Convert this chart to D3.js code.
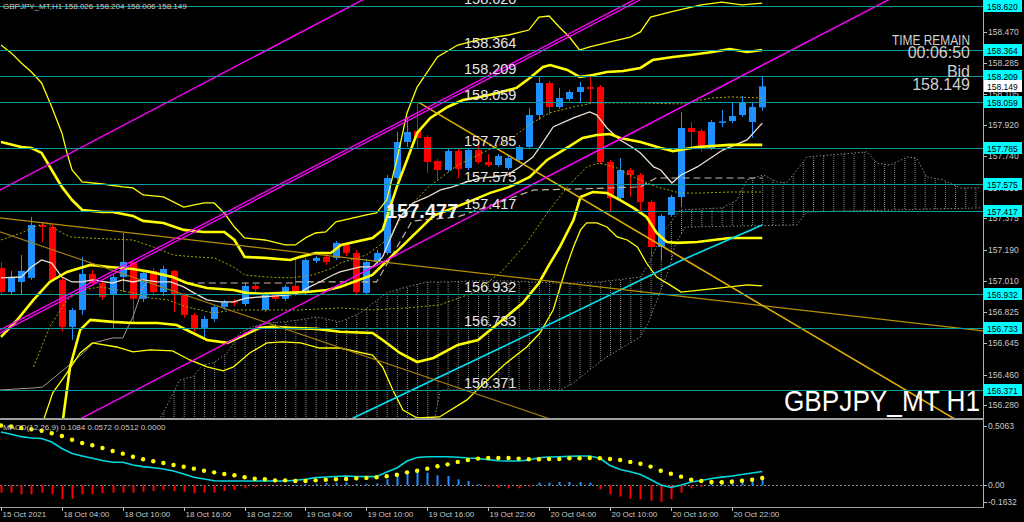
<!DOCTYPE html>
<html><head><meta charset="utf-8">
<script src="https://cdn.jsdelivr.net/npm/d3@7"></script>
<style>html,body{margin:0;padding:0;background:#000;overflow:hidden}</style>
</head><body><svg id="c" width="1024" height="522"></svg>
<script>
// ---------- DATA ----------
const symbolTitle = "GBPJPY_MT,H1  158.026 158.204 158.006 158.149";
const macdTitle = "MACD(12,26,9) 0.1084 0.0572 0.0512 0.0000";
const timeLabels = ["15 Oct 2021","18 Oct 04:00","18 Oct 10:00","18 Oct 16:00","18 Oct 22:00","19 Oct 04:00","19 Oct 10:00","19 Oct 16:00","19 Oct 22:00","20 Oct 04:00","20 Oct 10:00","20 Oct 16:00","20 Oct 22:00"];
const timeLabelBars = [0,6,12,18,24,30,36,42,48,54,60,66,72];
const priceTicks = [158.470,158.285,158.105,157.920,157.740,157.555,157.375,157.190,157.010,156.825,156.645,156.460,156.280];
const levels = [158.620,158.364,158.209,158.059,157.785,157.575,157.417,156.932,156.733,156.371];
const bidPrice = 158.149;
const macdTicks = [0.5063, 0.00, -0.1632];
const macdTickText = ["0.5063","0.00","-0.1632"];

const open = [157.085,156.944,157.003,157.027,157.337,157.325,157.015,156.740,156.839,157.050,
156.997,156.927,157.032,157.120,156.904,157.068,156.944,157.068,156.927,156.810,
156.734,156.786,156.857,156.886,156.874,156.980,156.839,156.927,156.904,156.980,
156.939,157.126,157.150,157.144,157.220,157.173,156.939,157.120,157.173,157.612,
157.823,157.888,157.852,157.712,157.659,157.770,157.671,157.776,157.706,157.688,
157.671,157.718,157.794,157.981,158.169,158.028,158.075,158.116,158.145,158.145,
157.706,157.495,157.659,157.630,157.472,157.208,157.396,157.501,157.905,157.888,
157.788,157.935,157.946,157.981,157.940,158.026];
const high = [157.120,157.068,157.161,157.384,157.355,157.343,157.027,156.851,157.150,157.073,
157.009,157.044,157.290,157.132,157.073,157.085,157.097,157.073,156.939,156.821,
156.804,156.868,156.898,156.904,156.997,156.991,156.944,156.939,156.986,157.150,
157.144,157.155,157.173,157.243,157.232,157.191,157.138,157.191,157.630,157.882,
157.970,158.057,157.864,157.724,157.782,157.782,157.788,157.835,157.753,157.753,
157.741,157.806,158.022,158.204,158.180,158.140,158.128,158.175,158.204,158.157,
157.718,157.729,157.671,157.642,157.483,157.401,157.513,157.999,157.940,157.899,
157.952,158.011,158.057,158.093,158.052,158.204];
const low = [156.927,156.927,156.927,157.015,157.237,157.003,156.711,156.663,156.810,156.980,
156.898,156.734,156.944,156.763,156.886,156.927,156.921,156.827,156.792,156.711,
156.663,156.769,156.839,156.862,156.862,156.944,156.827,156.892,156.892,156.921,
156.927,157.114,157.103,157.132,157.155,156.933,156.927,157.108,157.161,157.601,
157.794,157.782,157.642,157.601,157.647,157.612,157.659,157.694,157.677,157.677,
157.659,157.706,157.782,157.952,157.981,158.017,158.063,158.057,158.057,157.694,
157.413,157.483,157.501,157.413,157.150,157.132,157.384,157.442,157.788,157.765,
157.776,157.911,157.934,157.970,157.847,158.006];
const close = [156.944,157.032,157.068,157.337,157.325,157.015,156.740,156.839,157.050,156.997,
156.915,157.032,157.120,156.904,157.056,156.944,157.079,156.927,156.810,156.734,
156.786,156.857,156.886,156.880,156.980,156.962,156.927,156.904,156.974,156.939,
157.132,157.144,157.120,157.232,157.173,156.944,157.120,157.173,157.612,157.823,
157.882,157.847,157.706,157.659,157.770,157.665,157.776,157.706,157.688,157.741,
157.729,157.794,157.981,158.169,158.028,158.081,158.116,158.145,158.134,157.706,
157.495,157.659,157.630,157.472,157.208,157.390,157.501,157.905,157.882,157.794,
157.940,157.944,157.975,158.052,158.028,158.149];

// Bollinger bands [bar, price]
const bbUp3 = [[0,158.391],[1,158.345],[2,158.286],[3,158.233],[4,158.169],[5,158.028],[6,157.876],[6.5,157.759],[7,157.659],[8,157.589],[10,157.577],[12,157.560],[13,157.554],[14,157.513],[16,157.501],[18,157.442],[20,157.466],[21,157.466],[22,157.407],[23,157.325],[24,157.261],[26,157.249],[28,157.220],[29,157.220],[30,157.261],[31,157.290],[32,157.296],[33,157.355],[36,157.396],[37,157.407],[38,157.483],[39,157.718],[40,157.993],[41,158.145],[43,158.321],[45,158.391],[47,158.421],[50,158.450],[52,158.479],[53,158.555],[54,158.561],[55,158.497],[56,158.438],[57,158.362],[58,158.380],[60,158.409],[62,158.438],[63,158.468],[64,158.555],[66,158.585],[69,158.626],[71,158.643],[73,158.626],[75,158.637]];
const bbUp2 = [[0,157.823],[2,157.794],[3,157.788],[4,157.759],[5,157.659],[6,157.560],[7,157.483],[8,157.425],[10,157.413],[11,157.413],[13,157.390],[14,157.361],[16,157.349],[18,157.308],[20,157.296],[22,157.296],[23,157.249],[24,157.150],[26,157.144],[28.5,157.132],[29.5,157.150],[31,157.173],[32.5,157.173],[33.5,157.220],[36.6,157.261],[37.6,157.308],[39,157.560],[40,157.718],[41,157.876],[42.3,157.964],[44,158.028],[45.5,158.069],[47.2,158.087],[48.9,158.110],[50.8,158.140],[52.1,158.198],[53.4,158.263],[54.1,158.274],[55.8,158.245],[57,158.204],[58.3,158.216],[59.7,158.233],[61.3,158.239],[63,158.257],[64.2,158.303],[66.2,158.321],[67.9,158.333],[70.1,158.350],[71.8,158.368],[73.5,158.350],[75,158.362]];
const bbMid = [[0,156.681],[1.6,156.781],[3.2,156.898],[4.8,157.003],[6.5,157.062],[8.8,157.103],[10.7,157.091],[13,157.079],[14.7,157.062],[16.9,157.032],[18.3,156.997],[20.3,156.968],[22.9,156.956],[24.2,156.939],[25.8,156.933],[27.8,156.939],[30.1,156.944],[32.1,156.956],[33.4,156.974],[36.6,157.044],[39.3,157.200],[42.6,157.390],[46.2,157.475],[48.2,157.525],[50.1,157.560],[52.1,157.618],[53.8,157.718],[55.4,157.776],[57.3,157.847],[58.7,157.864],[60,157.870],[61,157.847],[63,157.823],[65,157.788],[66.2,157.770],[68.6,157.794],[71.8,157.806],[75,157.806]];
const bbLo2 = [[5.4,156.020],[6.1,156.195],[6.8,156.505],[7.8,156.722],[8.8,156.781],[11,156.769],[13,156.763],[15.4,156.763],[17.3,156.751],[18.9,156.704],[20.3,156.663],[22.3,156.646],[23.6,156.681],[25.5,156.734],[26.8,156.740],[28.5,156.734],[31.1,156.728],[33.4,156.711],[36.6,156.704],[37.6,156.663],[39.3,156.587],[41,156.534],[42.6,156.558],[45,156.634],[47,156.663],[50,156.810],[51.4,156.880],[53,156.997],[54,157.103],[55,157.202],[56.4,157.366],[57.1,157.501],[58.3,157.530],[59.7,157.524],[61,157.483],[62.3,157.437],[63.6,157.384],[64.6,157.290],[65.6,157.237],[66.6,157.232],[68.6,157.237],[71.8,157.261],[75,157.261]];
const bbLo3 = [[4.2,156.195],[5.1,156.353],[6.5,156.470],[7.8,156.587],[9,156.646],[11.4,156.622],[13,156.593],[14.7,156.605],[16.9,156.599],[18.6,156.546],[20.3,156.505],[21.9,156.482],[22.9,156.505],[24.5,156.587],[26.2,156.646],[27.8,156.652],[29.5,156.646],[31.4,156.616],[33.4,156.616],[36.6,156.575],[37.6,156.505],[38.6,156.370],[39.6,156.253],[41,156.206],[43.2,156.212],[45.9,156.312],[47.2,156.388],[49.8,156.529],[51.8,156.622],[53.1,156.704],[54.4,156.839],[55.7,157.091],[56.4,157.208],[57.1,157.308],[57.7,157.349],[58.7,157.349],[59.7,157.325],[60.7,157.267],[61.7,157.249],[62.7,157.208],[63.6,157.114],[64.6,157.032],[65.9,156.986],[67,156.944],[71.8,156.974],[73.5,156.986],[75,156.980]];
const bbUp1 = [[0,157.249],[2,157.290],[3.2,157.325],[4.5,157.349],[5.5,157.308],[6.8,157.267],[8.5,157.261],[10.7,157.255],[13,157.249],[15,157.208],[17,157.161],[19,157.150],[21,157.144],[22.9,157.091],[24,157.044],[26.2,157.032],[28.5,157.027],[30.7,157.044],[32.7,157.085],[33.4,157.114],[36,157.161],[38,157.249],[40,157.425],[42,157.554],[45,157.688],[48,157.776],[50,157.829],[52,157.923],[54,157.993],[56.4,158.028],[58.3,158.052],[63,158.052],[67,158.046],[70,158.081],[72,158.087],[75,158.081]];
const bbLo1 = [[3.2,156.505],[4.8,156.740],[6.5,156.898],[8,156.956],[9.8,156.974],[13,156.939],[14.7,156.909],[16.4,156.898],[18.3,156.857],[20.9,156.821],[22.9,156.839],[26.2,156.839],[29.5,156.839],[33.4,156.851],[36.6,156.839],[40,156.851],[43.2,156.868],[46.5,156.939],[49.2,157.056],[51.8,157.232],[53.8,157.407],[55.8,157.560],[57.7,157.677],[59,157.700],[60.7,157.671],[62.3,157.618],[64.6,157.560],[66.9,157.524],[68.9,157.524],[71.8,157.530],[75,157.530]];
// short moving average (white)
const fastMA = [[0,157.027],[2,157.032],[3,157.091],[4,157.132],[5,157.114],[6,157.032],[7,157.003],[8,157.003],[9,157.015],[11,156.997],[12,157.015],[13,157.003],[14,157.015],[15.4,157.003],[16.7,157.003],[18,156.974],[19,156.939],[20.3,156.898],[21.6,156.886],[22.9,156.886],[24.2,156.909],[25.5,156.915],[27.2,156.921],[28.5,156.927],[29.5,156.944],[30.4,156.974],[31.4,157.003],[32.7,157.044],[33.4,157.062],[35.4,157.091],[36.6,157.091],[37.6,157.150],[38.3,157.249],[39.3,157.384],[40.6,157.466],[42,157.501],[43.3,157.542],[44.5,157.560],[45.9,157.589],[47.2,157.612],[48.5,157.618],[49.9,157.630],[51.1,157.677],[52.4,157.735],[53.1,157.794],[54.4,157.911],[56.4,157.964],[58,157.999],[58.7,157.981],[59.7,157.905],[61,157.835],[62.3,157.788],[63,157.759],[64.3,157.677],[65,157.659],[66.1,157.583],[67,157.630],[68.6,157.677],[71.1,157.776],[73.5,157.835],[75,157.934]];
// kijun (dashed beige) steps
const kijun = [[18.3,156.997],[29,156.997],[29,157.003],[37,157.003],[40.5,157.360],[45,157.384],[52.5,157.542],[57,157.548],[63,157.560],[64.5,157.612],[75,157.612]];
// lagging grey line
const lagLine = [[-0.1,156.370],[3.2,156.382],[4.1,156.388],[6.5,156.505],[8.1,156.587],[9.1,156.646],[11,156.675],[12,156.675],[13,156.798],[14,156.974],[14.4,156.997]];
// cloud spans
const spanA = [[14.7,156.080],[15.7,156.206],[16.65,156.312],[17.6,156.429],[18.9,156.447],[19.9,156.517],[20.9,156.529],[22.3,156.587],[23.5,156.704],[24.8,156.740],[26.2,156.763],[27.8,156.769],[29.5,156.781],[31.1,156.798],[33.4,156.769],[35.4,156.821],[38,156.939],[40,156.974],[42,157.003],[43.9,157.003],[46.5,157.009],[49.9,157.009],[52.4,157.003],[54.8,156.997],[56.4,156.997],[59,157.003],[60.7,157.015],[63,157.032],[63.9,157.120],[65.2,157.290],[66.9,157.425],[71.1,157.437],[72.5,157.483],[73.5,157.601],[75.1,157.630],[76.45,157.589],[77.4,157.583],[78.4,157.659],[79.4,157.735],[85.3,157.765],[86.3,157.700],[87.6,157.688],[89.3,157.735],[90.2,157.729],[91.2,157.618],[92.8,157.601],[94.5,157.554],[96.5,157.554]];
const spanB = [[14.7,156.080],[42.3,156.080],[43.3,156.370],[55.1,156.370],[56.4,156.411],[58,156.488],[59.7,156.564],[61.3,156.622],[63,156.681],[63.9,156.781],[64.9,156.939],[65.9,157.091],[66.4,157.220],[67.4,157.325],[78.4,157.337],[79.4,157.413],[96.5,157.437]];
// trend lines: two anchor points [bar, price]
const chanUpper = [[-0.1,157.542],[33.4,158.586]];
const chanMid = [[-0.1,156.722],[33.4,157.759]];
const chanMid2 = [[-0.1,156.704],[33.4,157.741]];
const chanLower = [[7.98,156.206],[87.4,158.655]];
const goldLong = [[-0.1,157.378],[96.75,156.716]];
const goldDark = [[-0.1,157.296],[53.8,156.206]];
const orangeRay = [[41.1,158.057],[93.8,156.206]];
const cyanMA = [[33.5,156.140],[34.7,156.206],[49.2,156.616],[66.9,157.126],[75,157.337]];

// MACD
const macdMain = [0.420,0.402,0.383,0.373,0.369,0.341,0.290,0.250,0.231,0.213,0.195,0.181,0.181,0.160,0.147,0.138,0.128,0.113,0.089,0.063,0.050,0.036,0.034,0.034,0.034,0.034,0.034,0.034,0.034,0.040,0.047,0.060,0.065,0.069,0.073,0.069,0.068,0.068,0.105,0.136,0.191,0.219,0.225,0.225,0.225,0.221,0.215,0.211,0.202,0.193,0.191,0.191,0.199,0.217,0.223,0.225,0.228,0.231,0.231,0.213,0.156,0.124,0.107,0.085,0.046,0.002,-0.017,0.002,0.026,0.038,0.053,0.064,0.073,0.085,0.097,0.1084];
const macdSignal = [0.471,0.463,0.451,0.441,0.430,0.410,0.388,0.359,0.333,0.315,0.294,0.270,0.249,0.225,0.205,0.189,0.176,0.160,0.146,0.131,0.115,0.102,0.089,0.079,0.063,0.052,0.047,0.039,0.039,0.034,0.034,0.039,0.044,0.047,0.050,0.055,0.058,0.063,0.071,0.083,0.102,0.115,0.131,0.150,0.165,0.184,0.199,0.210,0.215,0.215,0.215,0.210,0.205,0.205,0.207,0.207,0.213,0.213,0.215,0.213,0.207,0.199,0.184,0.170,0.147,0.115,0.091,0.068,0.044,0.034,0.026,0.024,0.028,0.036,0.044,0.0572];
const macdHist = [-0.058,-0.058,-0.071,-0.071,-0.058,-0.071,-0.110,-0.105,-0.071,-0.071,-0.063,-0.058,-0.058,-0.058,-0.050,-0.045,-0.039,-0.045,-0.050,-0.063,-0.058,-0.058,-0.045,-0.037,-0.024,-0.013,-0.005,-0.003,0.000,0.003,0.008,0.012,0.018,0.020,0.023,0.010,0.012,0.015,0.047,0.074,0.100,0.113,0.100,0.079,0.074,0.047,0.034,0.008,-0.011,-0.018,-0.024,-0.024,-0.011,0.021,0.021,0.026,0.026,0.026,0.021,-0.032,-0.071,-0.089,-0.105,-0.110,-0.123,-0.131,-0.110,-0.058,-0.024,-0.011,0.034,0.042,0.047,0.052,0.060,0.0512];

// ---------- DRAW ----------
const W = 1024, H = 522, R = 983, MB = 418, MT = 420, MBot = 506;
const FONT = "'Liberation Sans', Arial, sans-serif";
const svg = d3.select('#c');
svg.append('rect').attr('width', W).attr('height', H).attr('fill', '#000');
const defs = svg.append('defs');
defs.append('clipPath').attr('id','cm').append('rect').attr('x',0).attr('y',0).attr('width',R).attr('height',MB);
defs.append('clipPath').attr('id','cd').append('rect').attr('x',0).attr('y',MT).attr('width',R).attr('height',MBot-MT+1);
const pat = defs.append('pattern').attr('id','hatch').attr('patternUnits','userSpaceOnUse')
  .attr('x',1).attr('y',0).attr('width',10.15).attr('height',4);
pat.append('rect').attr('x',0).attr('y',0).attr('width',1).attr('height',1).attr('fill','#8a8a8a');
pat.append('rect').attr('x',0).attr('y',2).attr('width',1).attr('height',1).attr('fill','#8a8a8a');

const n = close.length;
const x = d3.scaleLinear().domain([0, 96.75]).range([1, R]);
const y = d3.scaleLinear().domain([156.206, 158.655]).range([MB, 0]);
const ym = d3.scaleLinear().domain([-0.1632, 0.5063]).range([MBot, 421]);

const main = svg.append('g').attr('clip-path','url(#cm)');
const line = d3.line().x(d => x(d[0])).y(d => y(d[1]));

// cloud
const cloudPoly = spanA.concat(spanB.slice().reverse());
main.append('path').attr('d', line(cloudPoly) + 'Z').attr('fill','url(#hatch)').attr('stroke','none');
[spanA, spanB].forEach(s => main.append('path').attr('d', line(s)).attr('fill','none')
  .attr('stroke','#8a8a8a').attr('stroke-width',1).attr('stroke-dasharray','1.5,2'));

// candles
const cg = main.append('g');
for (let i = 0; i < n; i++) {
  const up = close[i] >= open[i];
  const col = up ? '#1e90ff' : '#ff0000';
  const cx = Math.round(x(i)) + 0.5;
  cg.append('line').attr('x1',cx).attr('x2',cx).attr('y1',y(high[i])).attr('y2',y(low[i])).attr('stroke',col).attr('stroke-width',1);
  const t = y(Math.max(open[i],close[i])), b = y(Math.min(open[i],close[i]));
  cg.append('rect').attr('x',cx-3.5).attr('y',t).attr('width',7).attr('height',Math.max(1.2,b-t)).attr('fill',col);
}

// indicator lines
function pl(data, color, width, dash) {
  const p = main.append('path').attr('d', line(data)).attr('fill','none').attr('stroke',color).attr('stroke-width',width);
  if (dash) p.attr('stroke-dasharray', dash);
  return p;
}
pl(lagLine, '#a09890', 1);
pl(bbUp1, '#a8a800', 1, '2,2');
pl(bbLo1, '#a8a800', 1, '2,2');
pl(kijun, '#c8b8a8', 1.2, '7,4');
pl(fastMA, '#efe0d0', 1.3);
pl(bbUp3, '#ffff00', 1.3);
pl(bbLo3, '#ffff00', 1.3);
pl(bbUp2, '#ffff00', 2.6);
pl(bbMid, '#ffff00', 2.6);
pl(bbLo2, '#ffff00', 2.6);
pl(cyanMA, '#00e0f0', 1.6);

// trend lines (rays through anchor points)
function ray(pts, color, width, x0, x1) {
  const [a, b] = pts; const s = (b[1]-a[1])/(b[0]-a[0]);
  const f = t => a[1] + s*(t - a[0]);
  main.append('line').attr('x1',x(x0)).attr('y1',y(f(x0))).attr('x2',x(x1)).attr('y2',y(f(x1)))
    .attr('stroke',color).attr('stroke-width',width);
}
ray(goldLong, '#b89000', 1.2, -1, 97);
ray(goldDark, '#a07c10', 1.2, -1, 97);
ray(orangeRay, '#e0b000', 1.6, orangeRay[0][0], 97);
ray(chanUpper, '#ff00ff', 1.4, -1, 97);
ray(chanMid, '#ff00ff', 1.3, -1, 97);
ray(chanMid2, '#ff00ff', 1.3, -1, 97);
ray(chanLower, '#ff00ff', 1.4, -1, 97);

// horizontal levels
levels.forEach(v => {
  main.append('line').attr('x1',0).attr('x2',R).attr('y1',Math.round(y(v))+0.5).attr('y2',Math.round(y(v))+0.5)
    .attr('stroke','#0a9a9a').attr('stroke-width',1);
  main.append('text').attr('x',464).attr('y',Math.round(y(v))-2).text(v.toFixed(3))
    .attr('font-family',FONT).attr('font-size',14.5).attr('fill','#e6e6e6');
});
// bold price label
main.append('text').attr('x',386).attr('y',y(157.477)+17).text('157.477')
  .attr('font-family',FONT).attr('font-size',20).attr('font-weight','bold').attr('fill','#f4f4f4');

// header + info texts
svg.append('text').attr('x',3).attr('y',9).text(symbolTitle).attr('font-family',FONT).attr('font-size',8).attr('fill','#c8c8c8');
const info = [['TIME REMAIN',45,15,78],['00:06:50',58,16,null],['Bid',77,16,null],['158.149',90,16,null]];
info.forEach(d => {
  const t = svg.append('text').attr('x',970).attr('y',d[1]).attr('text-anchor','end').text(d[0])
    .attr('font-family',FONT).attr('font-size',d[2]).attr('fill','#d0d0d0');
  if (d[3]) t.attr('textLength',d[3]).attr('lengthAdjust','spacingAndGlyphs');
});
svg.append('text').attr('x',980).attr('y',411).attr('text-anchor','end').text('GBPJPY_MT H1')
  .attr('font-family',FONT).attr('font-size',30).attr('fill','#ffffff').attr('textLength',196).attr('lengthAdjust','spacingAndGlyphs');

// frame
svg.append('line').attr('x1',R+0.5).attr('x2',R+0.5).attr('y1',0).attr('y2',MBot+1).attr('stroke','#b0b0b0');
svg.append('rect').attr('x',0).attr('y',MB).attr('width',R+1).attr('height',2).attr('fill','#a0a0a0');
svg.append('line').attr('x1',0).attr('x2',R+1).attr('y1',MBot+1.5).attr('y2',MBot+1.5).attr('stroke','#a0a0a0');

// right price axis
const ax = svg.append('g');
priceTicks.forEach(v => {
  const yy = y(v);
  ax.append('line').attr('x1',R).attr('x2',R+4).attr('y1',Math.round(yy)+0.5).attr('y2',Math.round(yy)+0.5).attr('stroke','#c0c0c0');
  ax.append('text').attr('x',R+5).attr('y',yy+3).text(v.toFixed(3)).attr('font-family',FONT).attr('font-size',8.5).attr('fill','#c8c8c8');
});
levels.forEach(v => {
  const yy = Math.round(y(v));
  ax.append('rect').attr('x',R+1).attr('y',yy-6).attr('width',38).attr('height',12).attr('fill','#00ffff');
  ax.append('text').attr('x',R+4).attr('y',yy+3.5).text(v.toFixed(3)).attr('font-family',FONT).attr('font-size',8.5).attr('fill','#000');
});
{
  const yy = Math.round(y(bidPrice));
  ax.append('rect').attr('x',R+1).attr('y',yy-6).attr('width',38).attr('height',12).attr('fill','#ffffff');
  ax.append('text').attr('x',R+4).attr('y',yy+3.5).text(bidPrice.toFixed(3)).attr('font-family',FONT).attr('font-size',8.5).attr('fill','#000');
}

// MACD panel
const md = svg.append('g').attr('clip-path','url(#cd)');
md.append('line').attr('x1',0).attr('x2',R).attr('y1',Math.round(ym(0))+0.5).attr('y2',Math.round(ym(0))+0.5)
  .attr('stroke','#8c8c8c').attr('stroke-dasharray','2,2');
macdHist.forEach((v,i) => {
  const y0 = ym(0), y1 = ym(v);
  md.append('rect').attr('x',Math.round(x(i))-0.5).attr('width',2).attr('y',Math.min(y0,y1)).attr('height',Math.max(0.5,Math.abs(y1-y0)))
    .attr('fill', v >= 0 ? '#1e90ff' : '#ff0000');
});
md.append('path').attr('d', d3.line().x((d,i)=>x(i)).y(d=>ym(d))(macdMain)).attr('fill','none').attr('stroke','#00d8e0').attr('stroke-width',1.6);
macdSignal.forEach((v,i) => md.append('circle').attr('cx',x(i)).attr('cy',ym(v)).attr('r',2.2).attr('fill','#ffff00'));
svg.append('text').attr('x',3).attr('y',430).text(macdTitle).attr('font-family',FONT).attr('font-size',8).attr('fill','#c8c8c8');
const macdTickY = [426, ym(0), 502];
macdTickText.forEach((t,k) => {
  svg.append('text').attr('x',R+5).attr('y',macdTickY[k]+3).text(t).attr('font-family',FONT).attr('font-size',8.5).attr('fill','#c8c8c8');
  svg.append('line').attr('x1',R).attr('x2',R+4).attr('y1',Math.round(macdTickY[k])+0.5).attr('y2',Math.round(macdTickY[k])+0.5).attr('stroke','#c0c0c0');
});

// time axis
timeLabels.forEach((t,k) => {
  const xx = Math.round(x(timeLabelBars[k])) + 0.5;
  svg.append('line').attr('x1',xx).attr('x2',xx).attr('y1',MBot+2).attr('y2',MBot+5).attr('stroke','#c0c0c0');
  svg.append('text').attr('x',xx+1).attr('y',517).text(t).attr('font-family',FONT).attr('font-size',8).attr('fill','#c8c8c8');
});
</script></body></html>
